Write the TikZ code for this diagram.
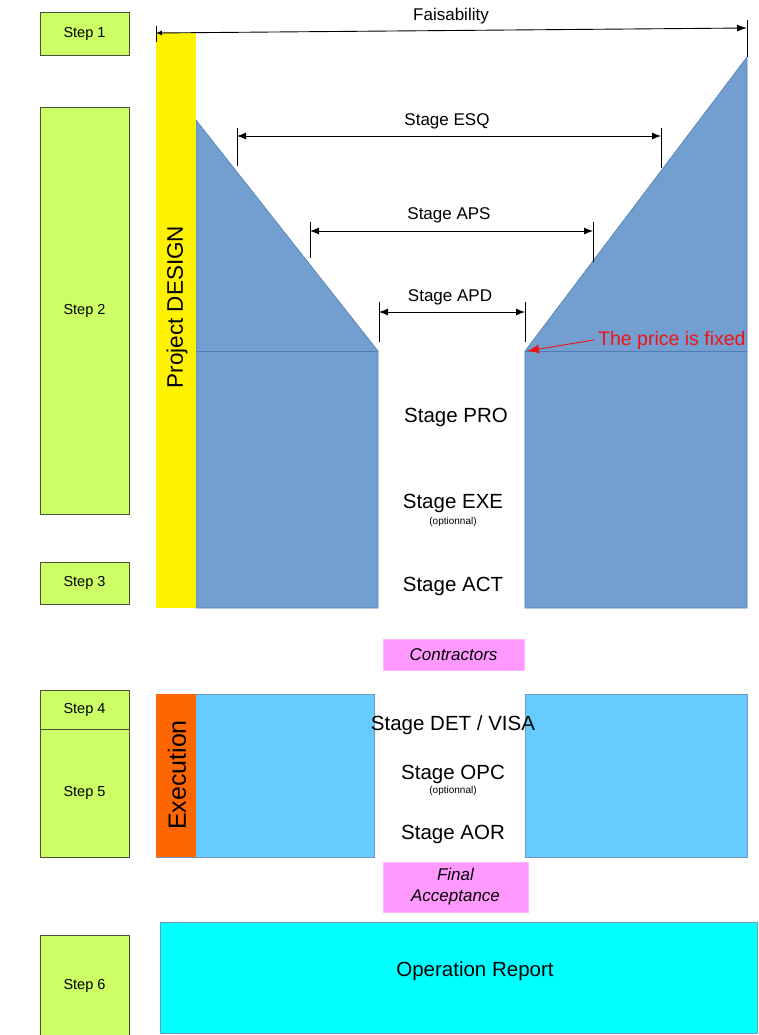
\documentclass[tikz,border=0pt]{standalone}
\usepackage{fontspec}
\setmainfont{Liberation Sans}
\usetikzlibrary{arrows.meta, positioning}
\definecolor{stepgreen}{RGB}{204,255,102}
\definecolor{stepedge}{RGB}{70,80,60}
\definecolor{designblue}{RGB}{114,159,207}
\definecolor{designedge}{RGB}{80,125,180}
\definecolor{execblue}{RGB}{102,204,255}
\definecolor{execorange}{RGB}{255,102,0}
\definecolor{milestone}{RGB}{255,153,255}
\definecolor{pricered}{RGB}{240,20,20}
\definecolor{reportcyan}{RGB}{0,255,255}

\begin{document}
\begin{tikzpicture}[x=1pt,y=-1pt,
    stepbox/.style={draw=stepedge,fill=stepgreen,line width=0.8pt,minimum width=89pt,font=\fontsize{14.5}{16}\selectfont},
    stagelabel/.style={font=\fontsize{20.5}{24}\selectfont},
    dimlabel/.style={font=\fontsize{17}{20}\selectfont},
    optlabel/.style={font=\fontsize{10}{12}\selectfont},
    dimarrow/.style={{Latex[length=9pt,width=7pt]}-{Latex[length=9pt,width=7pt]},line width=0.9pt},
    milestonebox/.style={fill=milestone,draw=milestone!70!white,inner sep=0pt,font=\fontsize{17}{21}\selectfont\itshape,align=center}]
  \useasboundingbox (0,0) rectangle (758,1035);
  % steps
  \node[stepbox,minimum height=43pt] (step1) at (84.5,33.5) {Step 1};
  \node[stepbox,minimum height=407pt] (step2) at (84.5,310.5) {Step 2};
  \node[stepbox,minimum height=42pt] (step3) at (84.5,583) {Step 3};
  \node[stepbox,minimum height=39pt] (step4) at (84.5,709.5) {Step 4};
  \node[stepbox,minimum height=128pt] (step5) at (84.5,793) {Step 5};
  \node[stepbox,minimum height=102pt] (step6) at (84.5,986) {Step 6};
  % design funnel
  \filldraw[fill=designblue,draw=designedge,line width=0.6pt] (196,120) -- (378,351) -- (378,608) -- (196,608) -- cycle;
  \filldraw[fill=designblue,draw=designedge,line width=0.6pt] (747,57) -- (525,351) -- (525,608) -- (747,608) -- cycle;
  \draw[designedge,line width=0.8pt] (196,351) -- (378,351);
  \draw[designedge,line width=0.8pt] (525,351) -- (747,351);
  \fill[yellow] (156,33) rectangle (196,608);
  \node[rotate=90,font=\fontsize{22.5}{26}\selectfont] (design) at (177,307) {Project DESIGN};
  % feasibility
  \coordinate (faisL) at (156,33);
  \coordinate (faisR) at (747,28);
  \draw[line width=0.8pt] (156,26) -- (156,42);
  \draw[line width=0.8pt] (747,20) -- (747,57);
  \draw[{Latex[length=6pt,width=5pt]}-{Latex[length=10pt,width=7pt]},line width=0.9pt] (faisL) -- (faisR);
  \node[dimlabel] (fais) at (451,16) {Faisability};
  % ESQ
  \coordinate (esqL) at (237,136);
  \coordinate (esqR) at (661,136);
  \draw[line width=0.8pt] (237,128) -- (237,166);
  \draw[line width=0.8pt] (661,128) -- (661,168);
  \draw[dimarrow] (esqL) -- (esqR);
  \node[dimlabel] (esq) at (447,121) {Stage ESQ};
  % APS
  \coordinate (apsL) at (310,231);
  \coordinate (apsR) at (593,231);
  \draw[line width=0.8pt] (310,222) -- (310,258);
  \draw[line width=0.8pt] (593,222) -- (593,262);
  \draw[dimarrow] (apsL) -- (apsR);
  \node[dimlabel] (aps) at (449,215) {Stage APS};
  % APD
  \coordinate (apdL) at (379,312);
  \coordinate (apdR) at (525,312);
  \draw[line width=0.8pt] (379,302) -- (379,342);
  \draw[line width=0.8pt] (525,302) -- (525,342);
  \draw[dimarrow] (apdL) -- (apdR);
  \node[dimlabel] (apd) at (450,297) {Stage APD};
  % price
  \coordinate (pricept) at (527,351);
  \node[anchor=west,inner sep=4pt,text=pricered,font=\fontsize{19.5}{22}\selectfont] (price) at (594,340) {The price is fixed};
  \draw[pricered,line width=0.9pt,-{Latex[length=12pt,width=9pt]}] (price.west) -- (pricept);
  % design stages
  \node[stagelabel] (pro) at (456,417) {Stage PRO};
  \node[stagelabel] (exe) at (453,503) {Stage EXE};
  \node[optlabel] (exeopt) at (453,522) {(optionnal)};
  \node[stagelabel] (act) at (453,586) {Stage ACT};
  % contractors
  \node[milestonebox,minimum width=141pt,minimum height=31pt] (contract) at (453.5,654.5) {Contractors};
  % execution
  \filldraw[fill=execblue,draw=designedge!80,line width=0.6pt] (156,694) rectangle (374,857);
  \filldraw[fill=execblue,draw=designedge!80,line width=0.6pt] (525,694) rectangle (747,857);
  \fill[execorange] (156,694) rectangle (196,857);
  \node[rotate=90,font=\fontsize{25}{30}\selectfont] (exec) at (177,775) {Execution};
  \node[stagelabel] (det) at (453,725) {Stage DET / VISA};
  \node[stagelabel] (opc) at (453,774) {Stage OPC};
  \node[optlabel] (opcopt) at (453,791) {(optionnal)};
  \node[stagelabel] (aor) at (453,834) {Stage AOR};
  % final acceptance
  \node[milestonebox,minimum width=145pt,minimum height=50pt] (final) at (455.5,887) {Final\\Acceptance};
  % operation report
  \node[draw=designedge!80,fill=reportcyan,line width=0.8pt,minimum width=597pt,minimum height=111pt] (report) at (458.5,977.5) {};
  \node[stagelabel] (reportlabel) at (475,971) {Operation Report};
\end{tikzpicture}
\end{document}
